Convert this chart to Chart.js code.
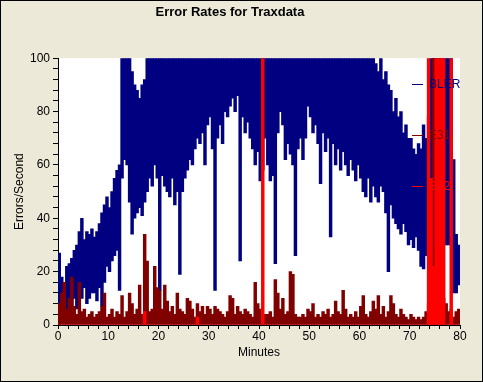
<!DOCTYPE html>
<html>
<head>
<meta charset="utf-8">
<script src="https://cdn.jsdelivr.net/npm/chart.js@4"></script>
<style>
  html, body { margin: 0; padding: 0; background: #ECE9D8; }
  canvas { display: block; }
</style>
</head>
<body>
<canvas id="chart" width="483" height="382"></canvas>
<script>
// Data: one bin per half minute (160 bins, 0-80 min)
const binWidth = 0.5;
const minutes = Array.from({ length: 160 }, (_, i) => i * binWidth + binWidth / 2);

// BLER: low / high of each bin
const blerLo = [
  0, 2, 5, 2, 8, 4, 10, 6, 12, 10, 14, 8, 10, 12, 12, 9, 14, 7, 16, 22,
  20, 24, 26, 28, 13, 55, 62, 60, 46, 34, 40, 42, 44, 41, 46, 50, 55, 52, 60, 55,
  13, 56, 52, 50, 48, 55, 45, 50, 19, 50, 55, 58, 62, 60, 66, 70, 68, 72, 60, 75,
  78, 66, 13, 70, 75, 68, 80, 78, 82, 85, 80, 86, 24, 78, 72, 76, 70, 66, 60, 65,
  54, 58, 70, 60, 54, 56, 23, 72, 80, 75, 62, 68, 64, 60, 26, 66, 70, 62, 70, 82,
  78, 72, 75, 68, 53, 72, 65, 70, 33, 68, 60, 66, 58, 65, 60, 56, 62, 58, 54, 60,
  55, 50, 48, 55, 46, 52, 48, 46, 52, 50, 42, 20, 45, 40, 38, 36, 34, 38, 35, 30,
  32, 29, 33, 28, 22, 21, 26, 30, 40, 30, 30, 30, 30, 30, 30, 30, 30, 12, 12, 15
];
const blerHi = [
  27, 18, 16, 22, 23, 25, 28, 30, 35, 40, 32, 35, 34, 36, 33, 35, 38, 42, 45, 48,
  44, 50, 55, 58, 60, 100, 100, 100, 100, 95, 90, 88, 85, 90, 92, 100, 100, 100, 100, 100,
  100, 100, 100, 100, 100, 100, 100, 100, 100, 100, 100, 100, 100, 100, 100, 100, 100, 100, 100, 100,
  100, 100, 100, 100, 100, 100, 100, 100, 100, 100, 100, 100, 100, 100, 100, 100, 100, 100, 100, 100,
  100, 100, 100, 100, 100, 100, 100, 100, 100, 100, 100, 100, 100, 100, 100, 100, 100, 100, 100, 100,
  100, 100, 100, 100, 100, 100, 100, 100, 100, 100, 100, 100, 100, 100, 100, 100, 100, 100, 100, 100,
  100, 100, 100, 100, 100, 100, 98, 95, 100, 92, 95, 90, 88, 80, 85, 78, 80, 72, 75, 70,
  70, 66, 64, 68, 66, 75, 70, 78, 100, 100, 100, 100, 100, 100, 100, 100, 100, 62, 34, 30
];

// E31: peak of each bin
const e31 = [
  8, 12, 16, 6, 10, 18, 7, 4, 16, 5, 6, 3, 4, 5, 3, 4, 5, 7, 12, 3,
  4, 6, 3, 5, 4, 11, 3, 5, 12, 8, 4, 6, 15, 4, 34, 24, 5, 6, 22, 14,
  13, 6, 15, 9, 5, 7, 4, 12, 6, 5, 4, 10, 9, 6, 3, 8, 5, 7, 4, 7,
  6, 4, 7, 6, 5, 4, 3, 5, 11, 10, 4, 7, 5, 4, 6, 5, 4, 3, 16, 8,
  6, 3, 4, 4, 5, 3, 17, 12, 6, 10, 4, 5, 20, 19, 4, 3, 3, 4, 3, 6,
  5, 8, 3, 4, 3, 5, 4, 6, 3, 4, 9, 5, 4, 13, 6, 3, 4, 3, 5, 3,
  7, 11, 4, 3, 5, 9, 6, 11, 4, 7, 3, 5, 11, 8, 4, 3, 6, 4, 3, 2,
  4, 3, 2, 3, 2, 3, 5, 8, 6, 100, 100, 20, 15, 10, 8, 5, 6, 3, 5, 6
];

// E32: peak of each bin
const e32 = [
  0, 0, 0, 0, 0, 0, 0, 0, 0, 0, 0, 0, 0, 0, 0, 0, 0, 0, 0, 0,
  0, 0, 0, 0, 0, 0, 0, 0, 0, 0, 0, 0, 0, 0, 5, 0, 0, 0, 0, 0,
  0, 0, 0, 0, 0, 0, 0, 0, 0, 0, 0, 0, 0, 0, 0, 3, 0, 0, 0, 0,
  0, 0, 0, 0, 0, 0, 0, 0, 0, 0, 0, 0, 0, 0, 0, 0, 0, 0, 0, 0,
  0, 100, 0, 0, 0, 0, 0, 0, 0, 0, 0, 0, 0, 0, 0, 0, 0, 0, 0, 0,
  0, 0, 0, 0, 0, 0, 0, 0, 0, 0, 0, 0, 0, 0, 0, 0, 0, 0, 0, 0,
  0, 0, 0, 0, 0, 0, 0, 0, 0, 0, 0, 0, 0, 0, 0, 0, 0, 0, 0, 0,
  0, 0, 0, 0, 0, 0, 0, 100, 55, 22, 100, 100, 100, 100, 0, 0, 100, 0, 0, 0
];

// Axis ticks
const xTicks = [0, 2, 4, 6, 8, 10, 12, 14, 16, 18, 20, 22, 24, 26, 28, 30, 32, 34, 36, 38, 40,
                42, 44, 46, 48, 50, 52, 54, 56, 58, 60, 62, 64, 66, 68, 70, 72, 74, 76, 78, 80];
const xLabels = [0, 10, 20, 30, 40, 50, 60, 70, 80];
const yTicks = [0, 4, 8, 12, 16, 20, 24, 28, 32, 36, 40, 44, 48, 52, 56, 60, 64, 68, 72, 76, 80,
                84, 88, 92, 96, 100];
const yLabels = [0, 20, 40, 60, 80, 100];

const FONT = '"Liberation Sans", Arial, sans-serif';
Chart.defaults.font.family = FONT;
Chart.defaults.font.size = 12;
Chart.defaults.color = '#000';

// Fond beige, zone de tracé blanche, cadre noir
const frame = {
  id: 'frame',
  beforeDraw(chart) {
    const { ctx, chartArea: a, width, height } = chart;
    ctx.save();
    ctx.fillStyle = '#ECE9D8';
    ctx.fillRect(0, 0, width, height);
    ctx.fillStyle = '#fff';
    ctx.fillRect(a.left, a.top, a.right - a.left, a.bottom - a.top);
    ctx.strokeStyle = '#000';
    ctx.lineWidth = 1;
    ctx.strokeRect(0.5, 0.5, width - 1, height - 1);
    ctx.restore();
  }
};

// Legend inside the plot, drawn over the data
const insideLegend = {
  id: 'insideLegend',
  afterDatasetsDraw(chart) {
    const { ctx, chartArea } = chart;
    ctx.save();
    ctx.font = '12px ' + FONT;
    ctx.textBaseline = 'middle';
    chart.data.datasets.forEach((ds, i) => {
      const x = chartArea.right - 48;
      const y = Math.round(chartArea.top + 26 + i * 51);
      ctx.strokeStyle = ds.backgroundColor;
      ctx.lineWidth = 1;
      ctx.beginPath();
      ctx.moveTo(x, y + 0.5);
      ctx.lineTo(x + 11, y + 0.5);
      ctx.stroke();
      ctx.fillStyle = ds.backgroundColor;
      ctx.fillText(ds.label, x + 17, y + 1);
    });
    ctx.restore();
  }
};

const barStyle = { borderWidth: 0, barThickness: 2.8, grouped: false };

new Chart(document.getElementById('chart'), {
  type: 'bar',
  data: {
    datasets: [
      { label: 'BLER', data: minutes.map((m, i) => ({ x: m, y: [blerLo[i], blerHi[i]] })),
        backgroundColor: '#000080', order: 3, ...barStyle },
      { label: 'E31', data: minutes.map((m, i) => ({ x: m, y: e31[i] })),
        backgroundColor: '#800000', order: 2, ...barStyle },
      { label: 'E32', data: minutes.map((m, i) => ({ x: m, y: e32[i] })),
        backgroundColor: '#FF0000', order: 1, ...barStyle }
    ]
  },
  options: {
    responsive: false,
    animation: false,
    devicePixelRatio: 1,
    layout: { padding: { left: 0, right: 23, top: 0, bottom: 0 } },
    plugins: {
      legend: { display: false },
      tooltip: { enabled: false },
      title: {
        display: true,
        text: 'Error Rates for Traxdata',
        color: '#000',
        font: { size: 13, weight: 'bold' },
        padding: { top: 5, bottom: 37.6 }
      }
    },
    scales: {
      x: {
        type: 'linear',
        min: 0,
        max: 80,
        offset: false,
        afterBuildTicks: s => { s.ticks = xTicks.map(v => ({ value: v })); },
        afterFit: s => { s.height = 57; },
        ticks: {
          autoSkip: false,
          maxRotation: 0,
          minRotation: 0,
          padding: 0,
          callback: v => xLabels.includes(v) ? String(v) : ''
        },
        grid: { offset: false, drawOnChartArea: false, tickLength: 4, color: '#000' },
        border: { color: '#000' },
        title: { display: true, text: 'Minutes', padding: { top: 0, bottom: 22 } }
      },
      y: {
        min: 0,
        max: 100,
        afterBuildTicks: s => { s.ticks = yTicks.map(v => ({ value: v })); },
        afterFit: s => { s.width = 58; },
        ticks: {
          autoSkip: false,
          padding: 3,
          callback: v => yLabels.includes(v) ? String(v) : ''
        },
        grid: { drawOnChartArea: false, tickLength: 5, color: '#000' },
        border: { color: '#000' },
        title: { display: true, text: 'Errors/Second', padding: { top: 12, bottom: 0 } }
      }
    }
  },
  plugins: [frame, insideLegend]
});
</script>
</body>
</html>
